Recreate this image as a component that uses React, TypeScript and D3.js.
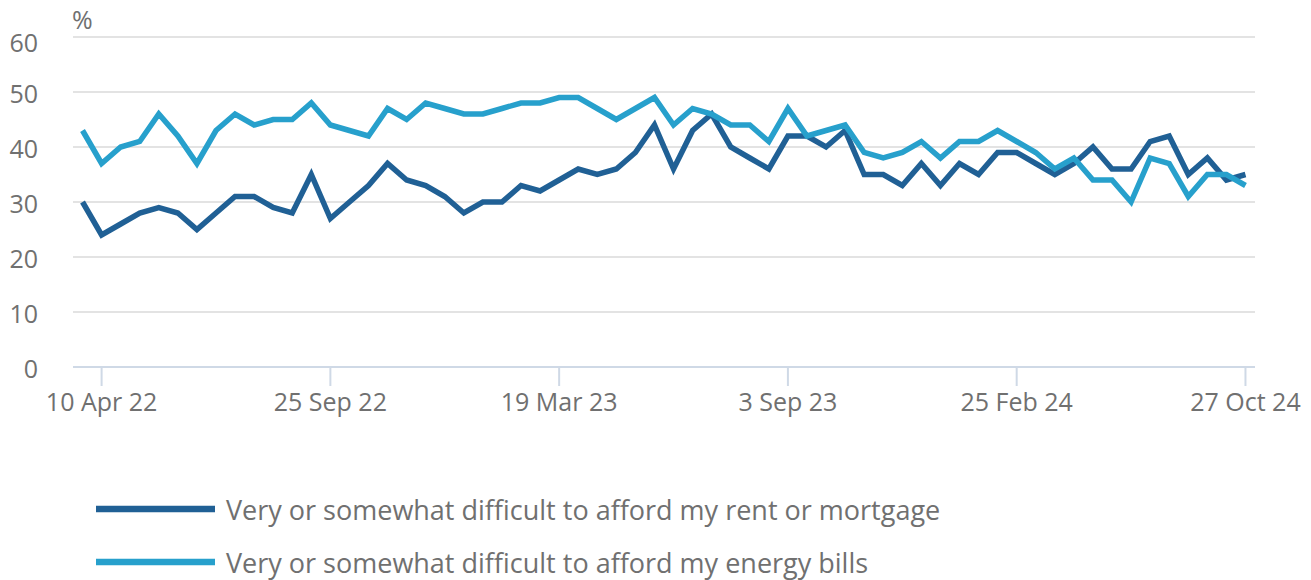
import React from "react";
import * as d3 from "d3";

const tickIndices = [1, 13, 25, 37, 49, 61];
const tickLabels = ["10 Apr 22", "25 Sep 22", "19 Mar 23", "3 Sep 23", "25 Feb 24", "27 Oct 24"];

const rentValues = [
  30, 24, 26, 28, 29, 28, 25, 28, 31, 31, 29, 28, 35, 27, 30, 33, 37, 34, 33, 31,
  28, 30, 30, 33, 32, 34, 36, 35, 36, 39, 44, 36, 43, 46, 40, 38, 36, 42, 42, 40,
  43, 35, 35, 33, 37, 33, 37, 35, 39, 39, 37, 35, 37, 40, 36, 36, 41, 42, 35, 38,
  34, 35,
];
const energyValues = [
  43, 37, 40, 41, 46, 42, 37, 43, 46, 44, 45, 45, 48, 44, 43, 42, 47, 45, 48, 47,
  46, 46, 47, 48, 48, 49, 49, 47, 45, 47, 49, 44, 47, 46, 44, 44, 41, 47, 42, 43,
  44, 39, 38, 39, 41, 38, 41, 41, 43, 41, 39, 36, 38, 34, 34, 30, 38, 37, 31, 35,
  35, 33,
];
const yTicks = [0, 10, 20, 30, 40, 50, 60];
const seriesNames = [
  "Very or somewhat difficult to afford my rent or mortgage",
  "Very or somewhat difficult to afford my energy bills",
];
const seriesColors = ["#206095", "#27a0cc"];

const W = 1311;
const H = 580;
const FONT = "'Open Sans', sans-serif";
const TEXT = "#707070";

export default function App() {
  const n = rentValues.length;
  const x = d3.scaleLinear().domain([-0.5, n - 0.5]).range([73, 1255]);
  const y = d3.scaleLinear().domain([0, 60]).range([367, 37]);
  const line = d3
    .line<number>()
    .x((_, i) => x(i))
    .y((d) => y(d));
  const series = [rentValues, energyValues];

  return (
    <svg
      width={W}
      height={H}
      style={{ position: "absolute", left: 0, top: 0, display: "block", background: "#fff" }}
      fontFamily={FONT}
    >
      {yTicks.map((t) => (
        <g key={t}>
          {t !== 0 && (
            <line x1={73} x2={1255} y1={y(t)} y2={y(t)} stroke="#e3e3e3" strokeWidth={2} />
          )}
          <text
            x={38}
            y={y(t) + (t === 60 ? 5 : 1)}
            textAnchor="end"
            dominantBaseline="central"
            fontSize={25}
            fill={TEXT}
          >
            {t}
          </text>
        </g>
      ))}
      <text x={72} y={29} fontSize={25} fill={TEXT}>
        %
      </text>
      <line x1={73} x2={1255} y1={y(0)} y2={y(0)} stroke="#cfd9e6" strokeWidth={2} />
      {tickIndices.map((ti, k) => (
        <g key={ti}>
          <line x1={x(ti)} x2={x(ti)} y1={y(0)} y2={y(0) + 19} stroke="#cfd9e6" strokeWidth={2} />
          <text x={x(ti)} y={411} textAnchor="middle" fontSize={25} fill={TEXT}>
            {tickLabels[k]}
          </text>
        </g>
      ))}
      {series.map((s, k) => (
        <path
          key={k}
          d={line(s) || ""}
          fill="none"
          stroke={seriesColors[k]}
          strokeWidth={5.5}
          strokeLinejoin="miter"
        />
      ))}
      {seriesNames.map((name, k) => (
        <g key={name} transform={`translate(0, ${509 + k * 53})`}>
          <line x1={96} x2={215} y1={0} y2={0} stroke={seriesColors[k]} strokeWidth={6.5} />
          <text x={226} y={11} fontSize={27} fill={TEXT}>
            {name}
          </text>
        </g>
      ))}
    </svg>
  );
}
